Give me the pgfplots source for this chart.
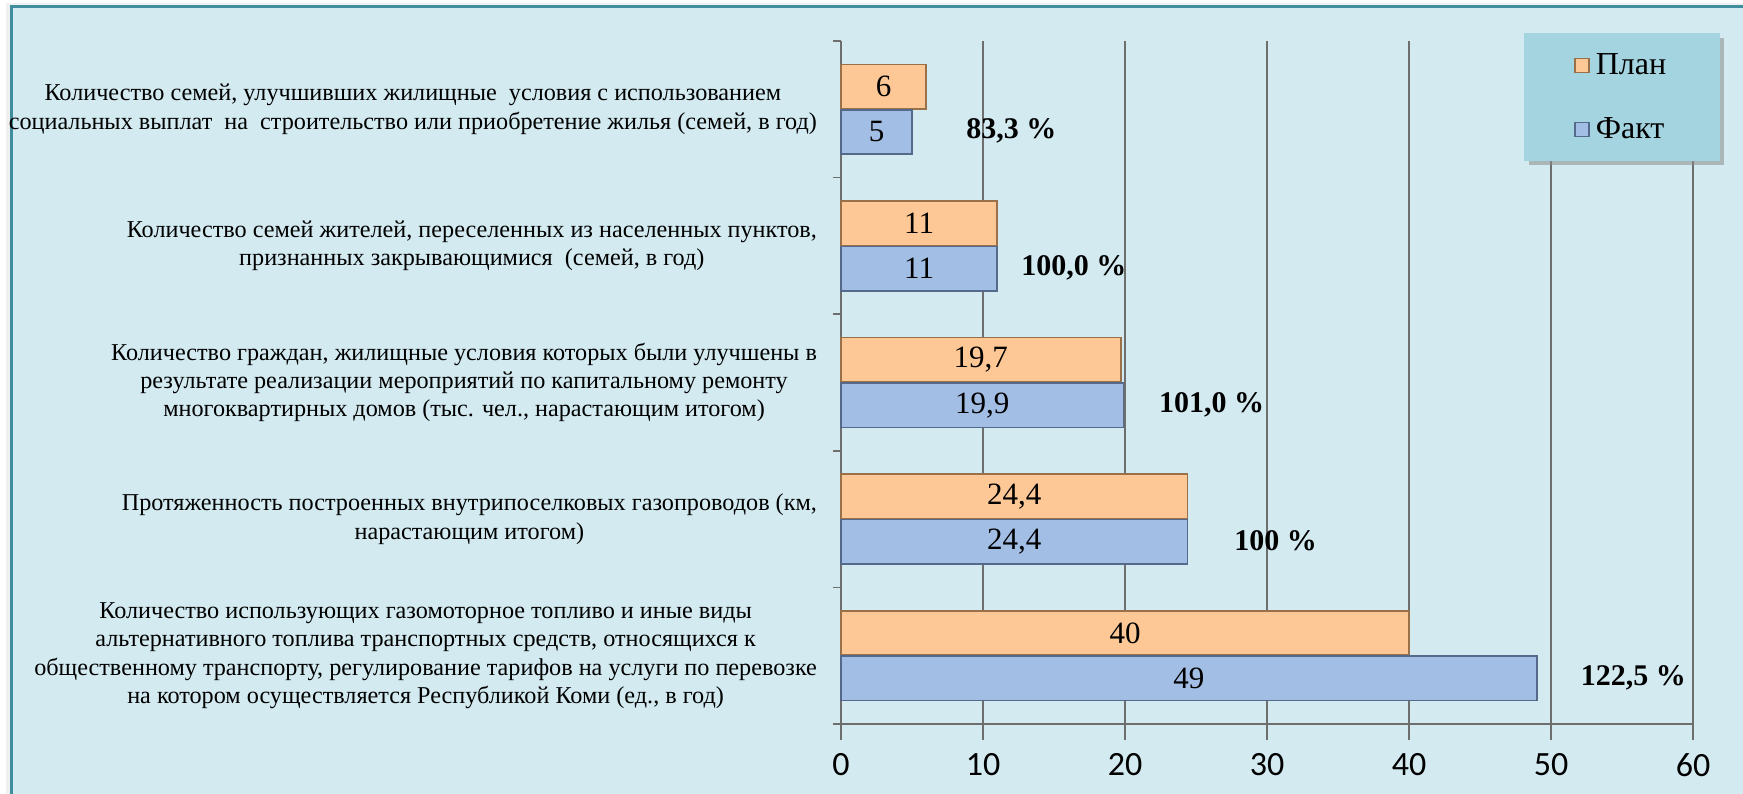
\documentclass[border=0pt]{standalone}
\usepackage{pgfplots}
\pgfplotsset{compat=1.18}
\usepackage{fontspec}
\setmainfont{Liberation Serif}
\newfontfamily\tickfont{Carlito}

\definecolor{bg}{HTML}{D2EAF0}
\definecolor{frame}{HTML}{3E8E9E}
\definecolor{plan}{HTML}{FDC896}
\definecolor{plandark}{HTML}{9A7048}
\definecolor{fact}{HTML}{A2BEE5}
\definecolor{factdark}{HTML}{55698A}
\definecolor{legbg}{HTML}{A3D4E0}
\definecolor{gridc}{HTML}{6E6E6E}

\begin{document}
\begin{tikzpicture}
\useasboundingbox (0,0) rectangle (871.5pt,396.5pt);
\fill[white] (0,0) rectangle (871.5pt,396.5pt);
\fill[black!6] (3pt,-10pt) rectangle (885pt,395pt);
\filldraw[fill=bg, draw=frame, line width=1.5pt] (5.5pt,-10pt) rectangle (885pt,393pt);
\begin{axis}[
  at={(420.5pt,34.5pt)}, anchor=south west,
  scale only axis, width=426pt, height=341.5pt,
  xbar, bar width=0.326,
  xmin=0, xmax=60, ymin=-0.5, ymax=4.5,
  axis x line=bottom, axis y line=left,
  axis line style={gridc, line width=0.9pt, -},
  xtick={0,10,...,60},
  xmajorgrids, grid style={gridc, line width=0.9pt},
  ytick={0,1,2,3,4},
  yticklabels={
    {Количество использующих газомоторное топливо и иные виды\\альтернативного топлива транспортных средств, относящихся к\\общественному транспорту, регулирование тарифов на услуги по перевозке\\на котором осуществляется Республикой Коми (ед., в год)},
    {Протяженность построенных внутрипоселковых газопроводов (км,\\нарастающим итогом)},
    {Количество граждан, жилищные условия которых были улучшены в\\результате реализации мероприятий по капитальному ремонту\\многоквартирных домов (тыс. чел., нарастающим итогом)},
    {Количество семей жителей, переселенных из населенных пунктов,\\признанных закрывающимися\ \ (семей, в год)},
    {Количество семей, улучшивших жилищные\ \ условия с использованием\\социальных выплат\ \ на\ \ строительство или приобретение жилья (семей, в год)}
  },
  minor ytick={-0.5,0.5,...,4.5},
  major y tick style={draw=none},
  tick align=outside,
  major tick length=8pt, minor tick length=4pt,
  tick style={gridc, line width=0.9pt},
  /pgf/number format/assume math mode=true,
  /pgf/number format/use comma,
  xticklabel style={font=\tickfont\fontsize{17}{17}\selectfont, yshift=-3pt},
  yticklabel style={align=center, font=\fontsize{12.1}{14.2}\selectfont, xshift=-0.5pt},
  nodes near coords,
  visualization depends on=rawx \as \rawx,
  nodes near coords style={font=\fontsize{15.5}{15.5}\selectfont, anchor=center, text=black,
     xshift={-3.55pt*\rawx}},
  legend style={at={(0.8016,1.0117)}, anchor=north west, fill=legbg, draw=none,
     font=\fontsize{16}{16}\selectfont, inner xsep=25pt, inner ysep=8pt, row sep=16pt,
     legend cell align=left},
  clip=false,
]
\fill[black!45, opacity=0.55] (axis description cs:0.8075,1.0044) rectangle (axis description cs:1.0364,0.8185);
\addplot[fill=plan, draw=plandark, line width=0.8pt, bar shift=0.166,
  legend image code/.code={\draw[fill=plan, draw=plandark, line width=0.6pt] (0pt,-3.5pt) rectangle (7pt,3.5pt);\node[anchor=west, inner sep=0pt] at (7pt,0) {\hspace{3pt}};}]
  coordinates {(40,0) (24.4,1) (19.7,2) (11,3) (6,4)};
\addplot[fill=fact, draw=factdark, line width=0.8pt, bar shift=-0.166,
  legend image code/.code={\draw[fill=fact, draw=factdark, line width=0.6pt] (0pt,-3.5pt) rectangle (7pt,3.5pt);\node[anchor=west, inner sep=0pt] at (7pt,0) {\hspace{3pt}};}]
  coordinates {(49,0) (24.4,1) (19.9,2) (11,3) (5,4)};
\legend{План, Факт}
\node[font=\bfseries\fontsize{15}{15}\selectfont] at (axis cs:12.0,3.84) {83,3 \%};
\node[font=\bfseries\fontsize{15}{15}\selectfont] at (axis cs:16.4,2.84) {100,0 \%};
\node[font=\bfseries\fontsize{15}{15}\selectfont] at (axis cs:26.1,1.84) {101,0 \%};
\node[font=\bfseries\fontsize{15}{15}\selectfont] at (axis cs:30.6,0.84) {100 \%};
\node[font=\bfseries\fontsize{15}{15}\selectfont] at (axis cs:55.8,-0.16) {122,5 \%};
\end{axis}
\end{tikzpicture}
\end{document}
